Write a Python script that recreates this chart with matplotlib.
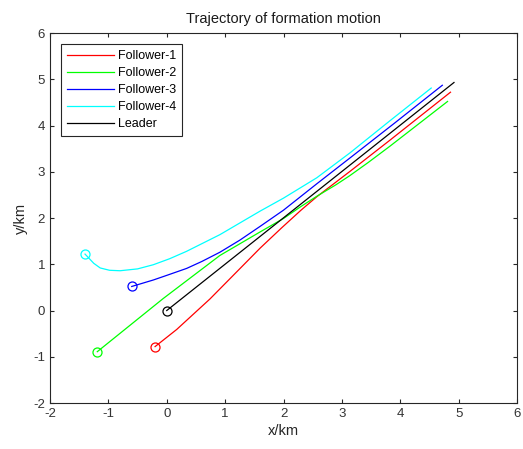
import matplotlib.pyplot as plt

plt.rcParams['font.family'] = ['Liberation Sans', 'DejaVu Sans']
plt.rcParams['axes.unicode_minus'] = False

# trajectories (km)
f1_x = [-0.20, 0.17, 0.74, 1.10, 1.60, 1.97, 2.30, 2.57, 3.14, 3.82, 4.86]
f1_y = [-0.78, -0.41, 0.25, 0.71, 1.35, 1.79, 2.17, 2.46, 3.01, 3.68, 4.72]

f2_x = [-1.19, -0.06, 0.91, 1.60, 2.00, 2.30, 2.57, 2.90, 3.14, 3.45, 3.82, 4.81]
f2_y = [-0.89, 0.26, 1.19, 1.70, 1.99, 2.25, 2.47, 2.72, 2.92, 3.20, 3.55, 4.52]

f3_x = [-0.60, -0.23, 0.00, 0.34, 0.60, 0.91, 1.25, 1.60, 2.00, 2.57, 3.14, 3.90, 4.72]
f3_y = [0.52, 0.66, 0.76, 0.91, 1.06, 1.26, 1.52, 1.82, 2.17, 2.74, 3.30, 4.05, 4.87]

f4_x = [-1.40, -1.25, -1.14, -0.98, -0.80, -0.50, -0.23, 0.05, 0.34, 0.91, 1.60, 2.00, 2.57, 3.14, 3.82, 4.53]
f4_y = [1.22, 1.02, 0.92, 0.87, 0.86, 0.90, 0.99, 1.12, 1.28, 1.64, 2.15, 2.43, 2.87, 3.41, 4.10, 4.81]

lead_x = [0.0, 4.92]
lead_y = [0.0, 4.93]

names = ["Follower-1", "Follower-2", "Follower-3", "Follower-4", "Leader"]
colors = ["#ff0000", "#00ff00", "#0000ff", "#00ffff", "#000000"]

fig = plt.figure(figsize=(5.23, 4.49), dpi=100)
ax = fig.add_axes([0.0956, 0.1024, 0.893, 0.8241])

paths = [(f1_x, f1_y), (f2_x, f2_y), (f3_x, f3_y), (f4_x, f4_y), (lead_x, lead_y)]
for (xs, ys), c, n in zip(paths, colors, names):
    ax.plot(xs, ys, color=c, lw=0.9, label=n)
for (xs, ys), c in zip(paths, colors):
    ax.plot(xs[0], ys[0], "o", mfc="none", mec=c, ms=6.5, mew=0.9)

ax.set_xlim(-2, 6)
ax.set_ylim(-2, 6)
ax.set_xticks(range(-2, 7))
ax.set_yticks(range(-2, 7))
ax.tick_params(direction="in", top=True, right=True, labelsize=9.5, colors="0.15",
               labelcolor="0.2", length=3)
for s in ax.spines.values():
    s.set_color("0.15")
    s.set_linewidth(0.8)
ax.set_xlabel("x/km", fontsize=10.5, color="0.15", labelpad=3)
ax.set_ylabel("y/km", fontsize=10.5, color="0.15", labelpad=4)
ax.set_title("Trajectory of formation motion", fontsize=10.5, color="0.1", pad=7)

leg = ax.legend(loc="upper left", fontsize=9, handlelength=3.8, labelspacing=0.4,
                borderaxespad=0.9, fancybox=False, edgecolor="0.15", framealpha=1,
                handletextpad=0.3, borderpad=0.45)
leg.get_frame().set_linewidth(0.8)

fig.savefig("out.png", dpi=100)
